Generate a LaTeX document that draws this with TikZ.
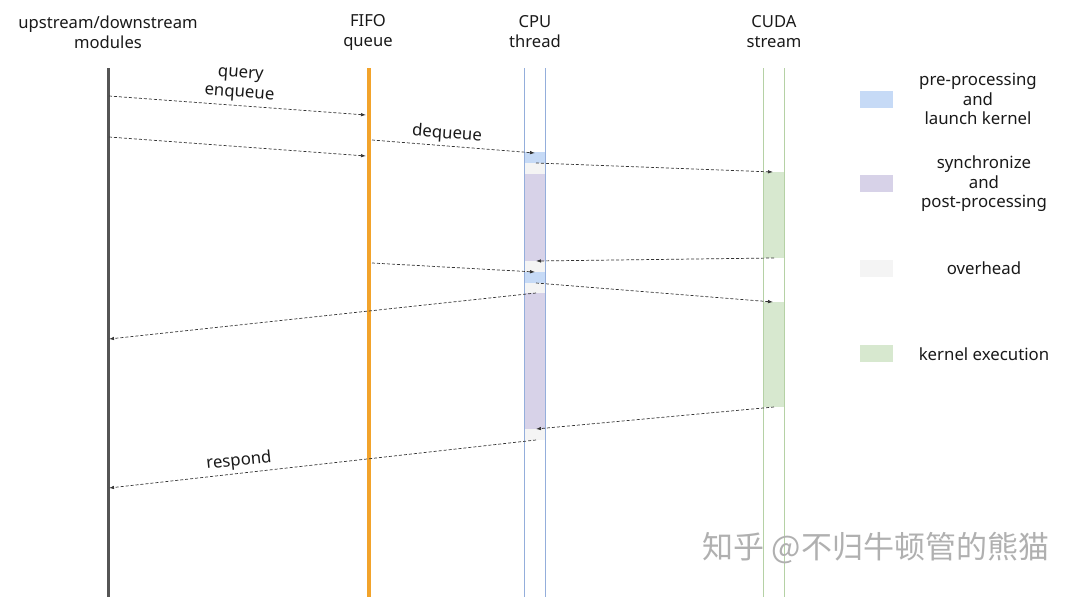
\documentclass[tikz,border=0pt]{standalone}
\usepackage{fontspec}
\setmainfont{Noto Sans}
\newfontfamily\cjk{Noto Sans CJK SC}
\usetikzlibrary{arrows.meta}
\definecolor{upgray}{HTML}{555555}
\definecolor{fifoorange}{HTML}{F2A32B}
\definecolor{cpuline}{HTML}{94AEDB}
\definecolor{cudaline}{HTML}{B5D1A5}
\definecolor{preblue}{HTML}{C6DAF6}
\definecolor{postpurple}{HTML}{D7D2E8}
\definecolor{overgray}{HTML}{F4F4F4}
\definecolor{kergreen}{HTML}{D7E8CF}
\definecolor{msgcol}{HTML}{333333}
\definecolor{wmgray}{HTML}{B0B0B0}
\begin{document}
\begin{tikzpicture}[x=1pt,y=-1pt,
  hdr/.style={align=center,font=\fontsize{16.6}{20}\selectfont,text=black!90,inner sep=0pt},
  lbl/.style={align=center,font=\fontsize{16.8}{19.5}\selectfont,text=black!90,inner sep=0pt},
  msg/.style={draw=msgcol,line width=0.7pt,dash pattern=on 3pt off 2pt,-{Latex[length=5pt,width=3.5pt]}},
  legbox/.style={minimum width=33pt,minimum height=17pt,inner sep=0pt}]
\useasboundingbox (0,0) rectangle (1080,597);

% headers
\node[hdr] (hup) at (108,32) {upstream/downstream\\modules};
\node[hdr] (hfifo) at (368,32) {FIFO\\queue};
\node[hdr] (hcpu) at (535,32) {CPU\\thread};
\node[hdr] (hcuda) at (774,32) {CUDA\\stream};

% CPU thread blocks
\fill[preblue] (524,152) rectangle (545,163);
\fill[overgray] (524,163) rectangle (545,174);
\fill[postpurple] (524,174) rectangle (545,261);
\fill[overgray] (524,261) rectangle (545,272);
\fill[preblue] (524,272) rectangle (545,283);
\fill[overgray] (524,283) rectangle (545,293);
\fill[postpurple] (524,293) rectangle (545,429);
\fill[overgray] (524,429) rectangle (545,440);

% CUDA stream blocks
\fill[kergreen] (763,172) rectangle (784,258);
\fill[kergreen] (763,302) rectangle (784,407);

% lifelines
\draw[upgray,line width=3pt] (108,68) -- (108,597);
\draw[fifoorange,line width=3.5pt] (369,68) -- (369,597);
\draw[cpuline,line width=0.8pt] (524,68) -- (524,597);
\draw[cpuline,line width=0.8pt] (545,68) -- (545,597);
\draw[cudaline,line width=0.8pt] (763,68) -- (763,597);
\draw[cudaline,line width=0.8pt] (784,68) -- (784,597);

% endpoints
\coordinate (u1) at (109,96);   \coordinate (f1) at (366,115);
\coordinate (u2) at (109,137);  \coordinate (f2) at (366,156);
\coordinate (f3) at (372,140);  \coordinate (c3) at (535,153);
\coordinate (c4) at (536,163);  \coordinate (g4) at (773,172);
\coordinate (g5) at (774,258);  \coordinate (c5) at (536,261);
\coordinate (f6) at (372,263);  \coordinate (c6) at (535,272);
\coordinate (c7) at (536,283);  \coordinate (g7) at (773,302);
\coordinate (c8) at (536,293);  \coordinate (u8) at (109,339);
\coordinate (g9) at (774,407);  \coordinate (c9) at (536,429);
\coordinate (c10) at (536,440); \coordinate (u10) at (109,488);

% messages
\draw[msg] (u1) -- (f1);
\draw[msg] (u2) -- (f2);
\draw[msg] (f3) -- (c3);
\draw[msg] (c4) -- (g4);
\draw[msg] (g5) -- (c5);
\draw[msg] (f6) -- (c6);
\draw[msg] (c7) -- (g7);
\draw[msg] (c8) -- (u8);
\draw[msg] (g9) -- (c9);
\draw[msg] (c10) -- (u10);

% labels
\node[lbl,rotate=-4] (lq) at (240,85) {query\\enqueue};
\node[lbl,rotate=-4] (ld) at (447,134) {dequeue};
\node[lbl,rotate=6] (lr) at (239,461) {respond};

% legend
\node[legbox,fill=preblue] (k1) at (876,99) {};
\node[legbox,fill=postpurple] (k2) at (876,183) {};
\node[legbox,fill=overgray] (k3) at (876,268) {};
\node[legbox,fill=kergreen] (k4) at (876,353) {};
\node[lbl] (t1) at (978,99) {pre-processing\\and\\launch kernel};
\node[lbl] (t2) at (984,184) {synchronize\\and\\post-processing};
\node[lbl] (t3) at (984,268) {overhead};
\node[lbl] (t4) at (984,354) {kernel execution};

% watermark
\node[inner sep=0pt,text=wmgray,font=\cjk\fontsize{31}{33}\selectfont] (wm) at (876,548) {知乎 @不归牛顿管的熊猫};
\end{tikzpicture}
\end{document}
